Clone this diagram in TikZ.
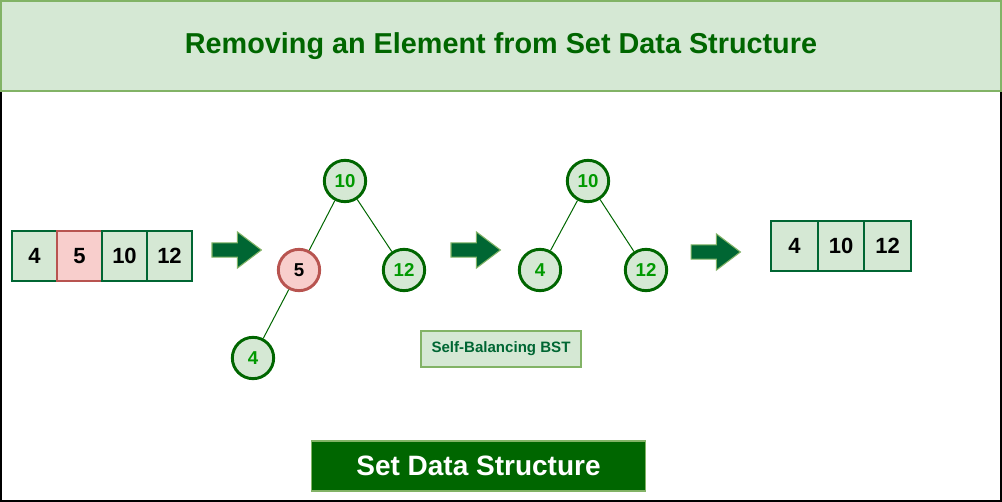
\documentclass[tikz,border=0pt]{standalone}
\usepackage{fontspec}
\setmainfont{Liberation Sans}
\usepackage{tikz}
\usetikzlibrary{shapes.arrows}

\definecolor{lightgreen}{HTML}{D5E8D4}
\definecolor{bordergreen}{HTML}{82B366}
\definecolor{darkgreen}{HTML}{006600}
\definecolor{cellgreen}{HTML}{006633}
\definecolor{textgreen}{HTML}{009900}
\definecolor{lightred}{HTML}{F8CECC}
\definecolor{borderred}{HTML}{B85450}

\tikzset{
	cell/.style={draw=cellgreen, line width=1.5pt, fill=lightgreen, minimum width=33.75pt, minimum height=37.5pt, inner sep=0, font=\fontsize{16.5}{19}\selectfont\bfseries},
	redcell/.style={cell, draw=borderred, fill=lightred},
	treenode/.style={draw=darkgreen, circle, line width=2.2pt, fill=lightgreen, minimum size=31pt, inner sep=0, text=textgreen, font=\fontsize{14}{16}\selectfont\bfseries},
	rednode/.style={treenode, draw=borderred, fill=lightred, text=black},
	bigarrow/.style={single arrow, draw=bordergreen, fill=cellgreen, line width=0.8pt, minimum height=37pt, single arrow head extend=8.25pt, single arrow tip angle=74, inner xsep=0, inner ysep=4.9pt, single arrow head indent=0pt},
	edge/.style={draw=darkgreen, line width=0.75pt}
}

\begin{document}
\begin{tikzpicture}[x=0.75pt, y=-0.75pt]
		\useasboundingbox (0,0) rectangle (1002,502);
		\draw[black, line width=1.2pt] (0.8,0.8) rectangle (1001.2,501.2);
		\node[draw=bordergreen, line width=1.5pt, fill=lightgreen, minimum width=750pt, minimum height=68pt, inner sep=0, text=darkgreen, font=\fontsize{21.6}{24}\selectfont\bfseries] (title) at (501,46) {Removing an Element from Set Data Structure};
		
		% input set
		\node[cell] (a1) at (34.5,256) {4};
		\node[redcell] (a2) at (79.5,256) {5};
		\node[cell] (a3) at (124.5,256) {10};
		\node[cell] (a4) at (169.5,256) {12};
		
		\node[bigarrow] (arr1) at (232,250) {};
		
		% tree before removal
		\begin{scope}
		\node[treenode] (t10) at (345,181) {10};
		\node[rednode] (t5) at (299,270) {5};
		\node[treenode] (t12) at (404,270) {12};
		\node[treenode] (t4) at (253,358) {4};
		\end{scope}
		
		\draw[edge] (t10) -- (t5);
		\draw[edge] (t10) -- (t12);
		\draw[edge] (t5) -- (t4);
		
		\node[bigarrow] (arr2) at (471,250) {};
		
		% tree after removal
		\begin{scope}
		\node[treenode] (s10) at (588,181) {10};
		\node[treenode] (s4) at (540,270) {4};
		\node[treenode] (s12) at (646,270) {12};
		\end{scope}
		
		\draw[edge] (s10) -- (s4);
		\draw[edge] (s10) -- (s12);
		
		\node[draw=bordergreen, line width=0.8pt, fill=lightgreen, minimum width=120pt, minimum height=27pt, inner sep=0, text=cellgreen, font=\fontsize{11.3}{13}\selectfont\bfseries] (bst) at (501,349) {Self-Balancing BST};
		
		\node[bigarrow] (arr3) at (711,252) {};
		
		% resulting set
		\node[cell, minimum width=35pt] (b1) at (794.5,246) {4};
		\node[cell, minimum width=35pt] (b2) at (841,246) {10};
		\node[cell, minimum width=35pt] (b3) at (887.5,246) {12};
		
		\node[draw=bordergreen, line width=0.8pt, fill=darkgreen, minimum width=251pt, minimum height=37.5pt, inner sep=0, text=white, font=\fontsize{21}{24}\selectfont\bfseries] (label) at (478.5,466) {Set Data Structure};
		
		\end{tikzpicture}
\end{document}
